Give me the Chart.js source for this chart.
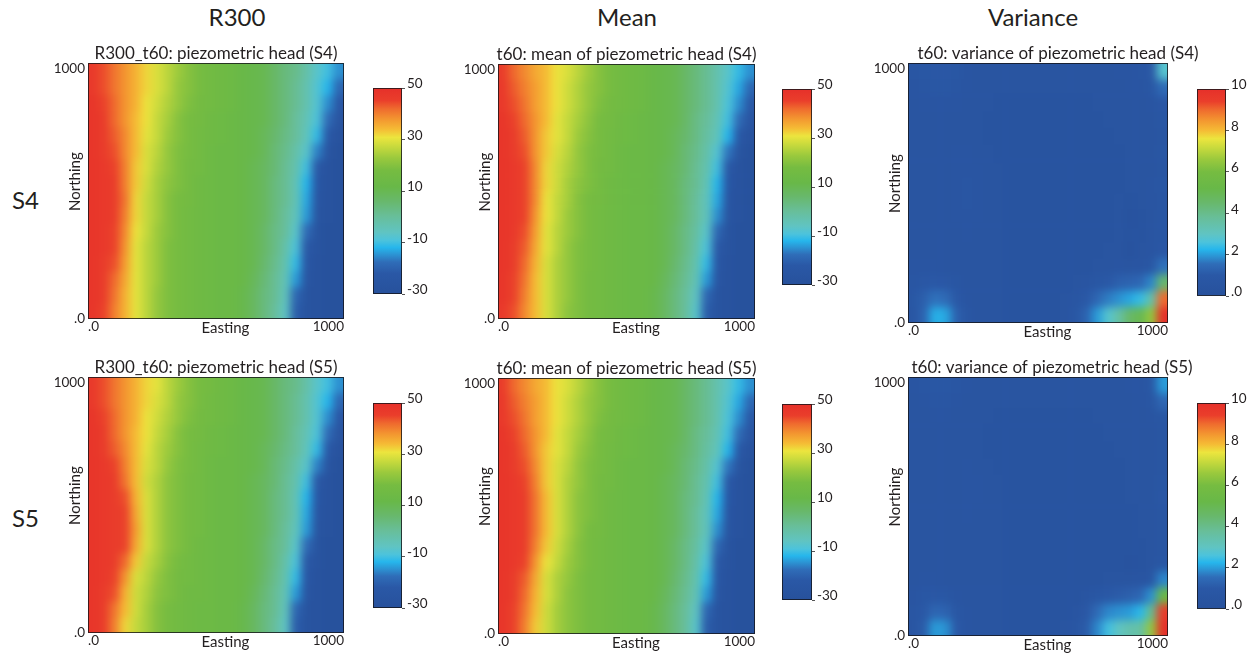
<!DOCTYPE html>
<html>
<head>
<meta charset="utf-8">
<title>Piezometric head at t60: R300, mean and variance</title>
<script src="https://cdn.jsdelivr.net/npm/chart.js@4.4.1/dist/chart.umd.min.js"></script>
<style>
  body { margin: 0; background: #fff; overflow: hidden; }
  #page { position: relative; width: 1257px; height: 655px; font-family: Lato, sans-serif; color: #231f20; }
  #page canvas { position: absolute; }
  .lbl { position: absolute; font-size: 24px; line-height: 1.2; white-space: nowrap; }
  .col { width: 200px; text-align: center; }
</style>
</head>
<body>
<div id="page">
  <div class="lbl col" style="left:137px; top:3px">R300</div>
  <div class="lbl col" style="left:527px; top:3px">Mean</div>
  <div class="lbl col" style="left:933px; top:3px">Variance</div>
  <div class="lbl" style="left:12px; top:186px">S4</div>
  <div class="lbl" style="left:12px; top:504px">S5</div>

  <canvas id="p1"></canvas><canvas id="p2"></canvas><canvas id="p3"></canvas>
  <canvas id="p4"></canvas><canvas id="p5"></canvas><canvas id="p6"></canvas>
  <canvas id="c1"></canvas><canvas id="c2"></canvas><canvas id="c3"></canvas>
  <canvas id="c4"></canvas><canvas id="c5"></canvas><canvas id="c6"></canvas>
</div>
<script>
const EXTENT = 1000;
const axisTicks = [0, 1000];
const headTicks = [-30, -10, 10, 30, 50];
const varianceTicks = [0, 2, 4, 6, 8, 10];
const headRange = [-30, 50];
const varianceRange = [0, 10];

// grids: rows from north (top) to south, columns from west to east
const headR300S4 = [
  [47,44,41,38,35,32,29,26,23,20,18,16,15,14,12,11,10,7,4,2,-2,-7,-10,-15],
  [47,44,41,38,35,32,29,26,22,20,18,16,15,14,12,11,10,7,4,1,-3,-8,-12,-19],
  [48,45,42,38,35,31,28,25,22,19,17,16,15,14,12,11,10,7,4,1,-3,-8,-15,-23],
  [48,46,42,38,34,31,27,24,20,18,17,15,14,13,12,11,10,7,4,0,-4,-9,-18,-26],
  [48,46,43,39,34,30,27,23,20,18,16,15,14,13,12,11,9,6,3,0,-5,-11,-22,-28],
  [48,46,44,39,34,29,26,22,19,18,16,14,13,13,12,11,9,5,2,-2,-7,-16,-26,-29],
  [48,47,45,40,33,29,25,22,19,17,16,14,13,13,12,10,8,5,1,-3,-10,-22,-28,-29],
  [48,47,46,40,33,28,24,21,19,17,15,14,13,13,12,10,8,4,1,-4,-12,-24,-28,-29],
  [48,47,46,41,32,27,24,20,18,17,15,14,13,13,12,10,8,4,1,-4,-13,-25,-28,-29],
  [48,47,46,40,32,27,24,20,18,16,15,14,13,13,12,10,8,4,0,-5,-14,-26,-28,-29],
  [48,47,45,39,31,27,23,20,18,16,15,14,13,13,12,10,7,3,0,-7,-18,-27,-29,-29],
  [48,47,45,38,30,26,23,19,18,16,15,14,13,13,12,10,7,3,-2,-9,-22,-27,-29,-29],
  [48,46,44,37,30,26,23,19,18,16,15,14,13,13,12,10,6,2,-3,-11,-24,-28,-29,-29],
  [48,46,42,36,30,26,23,19,18,16,15,14,13,13,12,9,5,1,-4,-14,-25,-28,-29,-29],
  [48,46,41,35,30,26,22,19,18,16,15,14,13,13,11,8,4,1,-5,-19,-27,-28,-29,-29],
  [48,45,40,35,30,26,22,19,18,16,15,14,13,13,11,8,4,0,-6,-21,-27,-28,-29,-29]
];

const headMeanS4 = [
  [46,42,39,36,34,31,29,26,23,20,18,16,15,14,12,11,10,7,4,1,-3,-7,-11,-15],
  [47,43,40,37,34,31,28,25,22,20,18,16,15,14,12,11,10,7,4,1,-3,-8,-13,-19],
  [47,44,41,37,34,31,28,25,22,19,17,16,15,14,12,11,10,7,4,1,-3,-9,-15,-22],
  [48,45,42,38,34,30,27,24,21,18,17,15,14,13,12,11,10,7,3,0,-4,-10,-18,-25],
  [48,46,43,38,33,30,27,23,20,18,16,15,14,13,12,11,9,6,3,-1,-5,-12,-22,-28],
  [48,46,44,38,33,29,26,22,19,18,16,14,13,13,12,11,9,5,2,-2,-8,-17,-26,-29],
  [48,47,45,39,32,28,25,22,19,17,16,14,13,13,12,10,8,5,1,-3,-10,-22,-28,-29],
  [48,47,45,39,32,28,24,21,19,17,15,14,13,13,12,10,8,4,1,-4,-12,-24,-28,-29],
  [48,47,45,39,31,27,24,20,18,17,15,14,13,13,12,10,8,4,0,-5,-13,-25,-28,-29],
  [48,47,45,38,31,27,23,20,18,16,15,14,13,13,12,10,8,4,0,-5,-15,-26,-28,-29],
  [48,47,44,37,30,26,23,20,18,16,15,14,13,13,12,10,7,3,-1,-7,-19,-27,-29,-29],
  [48,46,43,36,30,26,22,19,18,16,15,14,13,13,12,10,7,3,-2,-9,-22,-27,-29,-29],
  [48,46,42,35,29,25,22,19,18,16,15,14,13,13,12,10,6,2,-3,-11,-24,-28,-29,-29],
  [48,45,41,34,29,25,22,19,17,16,15,14,13,13,12,9,5,1,-4,-14,-25,-28,-29,-29],
  [48,45,40,34,29,25,22,19,17,16,15,14,13,13,11,8,4,0,-6,-19,-27,-28,-29,-29],
  [47,44,39,34,29,25,21,19,17,16,15,14,13,13,11,8,4,0,-7,-21,-27,-28,-29,-29]
];

const varianceS4 = [
  [0.7,0.8,0.9,0.9,0.8,0.6,0.5,0.5,0.5,0.5,0.5,0.5,0.5,0.5,0.5,0.5,0.5,0.5,0.5,0.6,0.6,0.7,0.9,2.8],
  [0.6,0.7,0.8,0.8,0.7,0.6,0.5,0.5,0.5,0.5,0.5,0.5,0.5,0.5,0.5,0.5,0.5,0.5,0.5,0.5,0.6,0.6,0.8,1.5],
  [0.5,0.6,0.6,0.6,0.6,0.5,0.5,0.5,0.4,0.4,0.4,0.4,0.4,0.4,0.4,0.4,0.4,0.5,0.5,0.5,0.5,0.5,0.6,0.9],
  [0.5,0.5,0.5,0.5,0.5,0.5,0.5,0.4,0.4,0.4,0.4,0.4,0.4,0.4,0.4,0.4,0.4,0.4,0.5,0.5,0.5,0.5,0.5,0.8],
  [0.5,0.5,0.5,0.5,0.5,0.5,0.5,0.4,0.4,0.4,0.4,0.4,0.4,0.4,0.4,0.4,0.4,0.4,0.4,0.5,0.5,0.5,0.5,0.7],
  [0.5,0.5,0.5,0.5,0.6,0.6,0.5,0.5,0.4,0.4,0.4,0.4,0.4,0.4,0.4,0.4,0.4,0.4,0.4,0.4,0.5,0.5,0.5,0.8],
  [0.5,0.5,0.5,0.5,0.6,0.6,0.6,0.5,0.5,0.4,0.4,0.4,0.4,0.4,0.4,0.4,0.4,0.4,0.4,0.4,0.5,0.5,0.5,0.7],
  [0.5,0.5,0.5,0.5,0.6,0.7,0.6,0.5,0.5,0.4,0.4,0.4,0.4,0.4,0.4,0.4,0.4,0.4,0.4,0.4,0.5,0.5,0.6,0.8],
  [0.5,0.5,0.5,0.5,0.6,0.7,0.6,0.5,0.5,0.4,0.4,0.4,0.4,0.4,0.4,0.4,0.4,0.4,0.4,0.5,0.4,0.5,0.6,0.7],
  [0.5,0.5,0.5,0.5,0.6,0.6,0.6,0.5,0.5,0.4,0.4,0.4,0.4,0.4,0.4,0.4,0.4,0.4,0.4,0.5,0.3,0.4,0.5,0.8],
  [0.5,0.5,0.5,0.5,0.5,0.6,0.5,0.5,0.5,0.4,0.4,0.4,0.4,0.4,0.4,0.4,0.4,0.4,0.4,0.5,0.4,0.4,0.6,0.8],
  [0.5,0.5,0.5,0.5,0.5,0.5,0.5,0.5,0.5,0.4,0.4,0.4,0.4,0.4,0.4,0.4,0.4,0.4,0.5,0.5,0.3,0.5,0.6,0.9],
  [0.6,0.6,0.6,0.5,0.5,0.5,0.5,0.5,0.5,0.4,0.4,0.4,0.4,0.4,0.4,0.4,0.4,0.5,0.5,0.6,0.5,0.6,0.8,1.6],
  [0.7,0.9,1.0,0.9,0.7,0.5,0.5,0.5,0.5,0.4,0.4,0.4,0.4,0.4,0.4,0.5,0.6,0.8,1.0,1.2,1.3,1.4,1.8,4.5],
  [0.8,1.2,1.6,1.5,1.0,0.6,0.5,0.5,0.5,0.4,0.4,0.4,0.4,0.4,0.5,0.7,1.0,1.4,1.7,1.9,2.1,2.4,3.5,9.0],
  [0.7,1.3,2.2,2.1,1.2,0.7,0.5,0.5,0.5,0.4,0.4,0.4,0.4,0.4,0.5,0.8,1.3,2.0,2.8,3.6,4.6,5.0,6.5,10]
];

const headR300S5 = [
  [47,44,41,38,35,32,30,26,23,20,18,17,15,14,12,11,10,7,4,2,-2,-7,-10,-15],
  [47,44,41,38,35,32,29,26,22,20,18,16,15,14,12,11,10,7,4,1,-3,-8,-12,-19],
  [48,45,42,38,35,31,28,25,22,19,17,16,15,14,12,11,10,7,4,1,-3,-8,-15,-23],
  [48,46,42,38,34,31,27,24,20,18,17,15,14,13,12,11,10,7,4,0,-4,-9,-18,-26],
  [48,46,43,39,34,30,26,23,20,18,16,15,14,13,12,11,9,6,3,0,-5,-11,-22,-28],
  [48,47,45,40,34,29,26,22,19,18,16,14,13,13,12,11,9,5,2,-2,-7,-16,-26,-29],
  [48,47,46,41,34,28,25,21,19,17,16,14,13,13,12,10,8,5,1,-3,-10,-22,-28,-29],
  [48,47,46,44,35,29,25,21,19,17,16,14,13,13,12,10,8,4,1,-4,-12,-24,-28,-29],
  [48,47,46,45,36,29,25,21,19,17,16,14,13,13,12,10,8,4,1,-4,-13,-25,-28,-29],
  [48,47,46,45,37,29,25,21,19,17,16,14,13,13,12,10,8,4,0,-5,-14,-26,-28,-29],
  [48,47,46,45,36,29,25,21,19,17,15,14,13,13,12,10,7,3,0,-7,-18,-27,-29,-29],
  [48,47,46,42,33,27,24,20,18,16,15,14,13,13,12,10,7,3,-2,-9,-22,-27,-29,-29],
  [48,47,45,38,29,26,22,19,17,16,15,14,13,13,12,10,6,2,-3,-11,-24,-28,-29,-29],
  [48,46,44,35,28,25,21,19,17,15,15,14,13,13,12,9,5,1,-4,-14,-25,-28,-29,-29],
  [48,46,41,34,28,24,20,18,16,15,14,14,13,13,11,8,4,1,-5,-19,-27,-28,-29,-29],
  [48,46,40,32,27,24,20,18,16,15,14,14,13,13,11,8,4,0,-6,-21,-27,-28,-29,-29]
];

const headMeanS5 = [
  [46,42,39,36,34,31,29,26,23,20,18,16,15,14,12,11,10,7,4,1,-3,-7,-11,-15],
  [47,43,40,37,34,31,28,25,22,20,18,16,15,14,12,11,10,7,4,1,-3,-8,-13,-19],
  [47,44,41,37,34,31,28,25,22,19,17,16,15,14,12,11,10,7,4,1,-3,-9,-15,-22],
  [48,45,42,38,34,30,27,24,21,18,17,15,14,13,12,11,10,7,3,0,-4,-10,-18,-25],
  [48,46,43,38,33,30,27,23,20,18,16,15,14,13,12,11,9,6,3,-1,-5,-12,-22,-28],
  [48,46,44,39,33,29,26,22,19,18,16,14,13,13,12,11,9,5,2,-2,-8,-17,-26,-29],
  [48,47,45,40,33,29,25,22,19,17,16,14,13,13,12,10,8,5,1,-3,-10,-22,-28,-29],
  [48,47,46,41,34,29,25,21,19,17,15,14,13,13,12,10,8,4,1,-4,-12,-24,-28,-29],
  [48,47,46,41,34,29,25,21,19,17,15,14,13,13,12,10,8,4,0,-5,-13,-25,-28,-29],
  [48,47,46,41,34,29,25,21,18,17,15,14,13,13,12,10,8,4,0,-5,-15,-26,-28,-29],
  [48,47,46,40,33,28,24,20,18,16,15,14,13,13,12,10,7,3,-1,-7,-19,-27,-29,-29],
  [48,47,45,38,31,27,23,20,18,16,15,14,13,13,12,10,7,3,-2,-9,-22,-27,-29,-29],
  [48,46,43,36,29,25,22,19,17,16,15,14,13,13,12,10,6,2,-3,-11,-24,-28,-29,-29],
  [48,46,42,35,29,25,21,19,17,16,15,14,13,13,12,9,5,1,-4,-14,-25,-28,-29,-29],
  [48,45,41,34,28,24,21,19,17,16,15,14,13,13,11,8,4,0,-6,-19,-27,-28,-29,-29],
  [48,45,40,33,28,24,21,19,17,16,15,14,13,13,11,8,4,0,-7,-21,-27,-28,-29,-29]
];

const varianceS5 = [
  [0.6,0.7,0.8,0.8,0.7,0.6,0.5,0.5,0.5,0.5,0.5,0.5,0.5,0.5,0.5,0.5,0.5,0.5,0.5,0.5,0.6,0.6,0.8,2.0],
  [0.5,0.6,0.7,0.7,0.6,0.5,0.5,0.5,0.5,0.5,0.5,0.5,0.5,0.5,0.5,0.5,0.5,0.5,0.5,0.5,0.5,0.6,0.7,1.4],
  [0.5,0.5,0.6,0.6,0.5,0.5,0.5,0.5,0.4,0.4,0.4,0.4,0.4,0.4,0.4,0.4,0.4,0.5,0.5,0.5,0.5,0.5,0.6,0.8],
  [0.5,0.5,0.5,0.5,0.5,0.5,0.5,0.4,0.4,0.4,0.4,0.4,0.4,0.4,0.4,0.4,0.4,0.4,0.5,0.5,0.5,0.5,0.5,0.7],
  [0.5,0.5,0.5,0.5,0.5,0.5,0.5,0.4,0.4,0.4,0.4,0.4,0.4,0.4,0.4,0.4,0.4,0.4,0.4,0.5,0.5,0.5,0.5,0.7],
  [0.5,0.5,0.5,0.5,0.5,0.6,0.5,0.5,0.4,0.4,0.4,0.4,0.4,0.4,0.4,0.4,0.4,0.4,0.4,0.4,0.5,0.5,0.5,0.7],
  [0.5,0.5,0.5,0.5,0.5,0.6,0.6,0.5,0.5,0.4,0.4,0.4,0.4,0.4,0.4,0.4,0.4,0.4,0.4,0.4,0.5,0.5,0.5,0.8],
  [0.5,0.5,0.5,0.5,0.5,0.6,0.6,0.5,0.5,0.4,0.4,0.4,0.4,0.4,0.4,0.4,0.4,0.4,0.4,0.4,0.5,0.5,0.5,0.9],
  [0.5,0.5,0.5,0.5,0.5,0.6,0.5,0.5,0.5,0.4,0.4,0.4,0.4,0.4,0.4,0.4,0.4,0.4,0.4,0.4,0.4,0.5,0.5,0.7],
  [0.5,0.5,0.5,0.5,0.5,0.5,0.5,0.5,0.5,0.4,0.4,0.4,0.4,0.4,0.4,0.4,0.4,0.4,0.4,0.4,0.4,0.5,0.5,0.7],
  [0.5,0.5,0.5,0.5,0.5,0.5,0.5,0.5,0.5,0.4,0.4,0.4,0.4,0.4,0.4,0.4,0.4,0.4,0.4,0.4,0.4,0.4,0.5,0.7],
  [0.5,0.5,0.5,0.5,0.5,0.5,0.5,0.5,0.5,0.4,0.4,0.4,0.4,0.4,0.4,0.4,0.4,0.4,0.4,0.4,0.3,0.4,0.5,0.8],
  [0.5,0.6,0.6,0.5,0.5,0.5,0.5,0.5,0.5,0.4,0.4,0.4,0.4,0.4,0.4,0.4,0.4,0.4,0.5,0.5,0.5,0.6,0.7,1.8],
  [0.6,0.8,0.9,0.8,0.6,0.5,0.5,0.5,0.5,0.4,0.4,0.4,0.4,0.4,0.4,0.4,0.6,0.8,1.0,1.1,1.2,1.4,1.9,5.5],
  [0.7,1.0,1.4,1.3,0.8,0.6,0.5,0.5,0.5,0.4,0.4,0.4,0.4,0.4,0.4,0.6,0.9,1.5,1.8,1.9,2.0,2.3,4.0,9.5],
  [0.6,1.1,2.0,1.9,1.0,0.6,0.5,0.5,0.5,0.4,0.4,0.4,0.4,0.4,0.5,0.7,1.1,1.8,2.5,3.0,3.4,3.6,6.5,10]
];

// rainbow colour scale, position 0..1 along the colour bar
const colorStops = [
  [0.00, '#27519c'], [0.10, '#2a58a6'], [0.155, '#2f6db8'], [0.19, '#2c92d2'],
  [0.225, '#26b6ec'], [0.26, '#4cc3dc'], [0.30, '#60c4c2'], [0.38, '#68be98'],
  [0.45, '#68b86c'], [0.52, '#68b848'], [0.60, '#76bc41'], [0.66, '#9ac93d'],
  [0.72, '#cbdb3d'], [0.76, '#ece53e'], [0.80, '#f5bb35'], [0.85, '#f39530'],
  [0.90, '#ef6a2e'], [0.94, '#ea3e2b'], [1.00, '#e6302a']
];

const ink = '#231f20';
const tickFont = { family: 'Lato', size: 13.5 };
const captionFont = { family: 'Lato', size: 15 };
Chart.defaults.font.family = 'Lato';

function hexRgb(h) {
  return [1, 3, 5].map(i => parseInt(h.slice(i, i + 2), 16));
}

function colorAt(v, range) {
  const t = Math.min(1, Math.max(0, (v - range[0]) / (range[1] - range[0])));
  let i = 1;
  while (i < colorStops.length - 1 && colorStops[i][0] < t) i++;
  const [t0, c0] = colorStops[i - 1];
  const [t1, c1] = colorStops[i];
  const f = (t - t0) / (t1 - t0);
  const a = hexRgb(c0), b = hexRgb(c1);
  return 'rgb(' + a.map((x, k) => Math.round(x + (b[k] - x) * f)).join(',') + ')';
}

const fmtTick = v => v === 0 ? '.0' : String(v);

// soft shading of the cell grid, kept inside the plotting area
const smooth = {
  id: 'smooth',
  afterDatasetsDraw(chart) {
    const { ctx, canvas, chartArea: a } = chart;
    const x = Math.round(a.left), y = Math.round(a.top);
    const w = Math.round(a.width), h = Math.round(a.height);
    const m = 16;
    const src = document.createElement('canvas');
    src.width = w; src.height = h;
    src.getContext('2d').drawImage(canvas, x, y, w, h, 0, 0, w, h);
    // pad with the edge pixels so the borders do not fade
    const pad = document.createElement('canvas');
    pad.width = w + 2 * m; pad.height = h + 2 * m;
    const p = pad.getContext('2d');
    p.drawImage(src, m, m);
    p.drawImage(src, 0, 0, 1, h, 0, m, m, h);
    p.drawImage(src, w - 1, 0, 1, h, w + m, m, m, h);
    p.drawImage(pad, 0, m, w + 2 * m, 1, 0, 0, w + 2 * m, m);
    p.drawImage(pad, 0, h + m - 1, w + 2 * m, 1, 0, h + m, w + 2 * m, m);
    ctx.save();
    ctx.beginPath();
    ctx.rect(x, y, w, h);
    ctx.clip();
    ctx.filter = 'blur(4.5px)';
    ctx.drawImage(pad, x - m, y - m);
    ctx.restore();
  }
};

// thin dark outline around the plotting area
const frame = {
  id: 'frame',
  afterDatasetsDraw(chart) {
    const { ctx, chartArea: a } = chart;
    ctx.save();
    ctx.strokeStyle = 'rgba(20,20,25,0.8)';
    ctx.lineWidth = 1;
    ctx.strokeRect(Math.round(a.left) + 0.5, Math.round(a.top) + 0.5, Math.round(a.width) - 1, Math.round(a.height) - 1);
    ctx.restore();
  }
};

// one floating-bar dataset per grid row; each bar is one cell
function cellRows(grid, range) {
  const dx = EXTENT / grid[0].length;
  const dy = EXTENT / grid.length;
  return grid.map((row, r) => {
    const y0 = EXTENT - (r + 1) * dy;
    return {
      data: row.map((v, c) => ({ x: (c + 0.5) * dx, y: [y0, y0 + dy], v })),
      backgroundColor: row.map(v => colorAt(v, range)),
      borderWidth: 0,
      grouped: false,
      barPercentage: 1,
      categoryPercentage: 1
    };
  });
}

function heatmap(id, grid, range, title, box, shift) {
  const yw = 50, xh = 20, th = 19;
  const canvas = document.getElementById(id);
  canvas.width = yw + box.w + yw + 2 * shift;
  canvas.height = th + box.h + xh;
  canvas.style.left = (box.x - yw) + 'px';
  canvas.style.top = (box.y - th) + 'px';
  const edgeTicks = s => { s.ticks = axisTicks.map(value => ({ value })); };

  new Chart(canvas, {
    type: 'bar',
    data: { datasets: cellRows(grid, range) },
    options: {
      responsive: false,
      animation: false,
      events: [],
      layout: { padding: 0 },
      plugins: {
        legend: { display: false },
        tooltip: { enabled: false },
        title: {
          display: true, text: title, color: ink, fullSize: true,
          font: { family: 'Lato', size: 17, weight: 'normal', lineHeight: th + 'px' },
          padding: 0
        }
      },
      scales: {
        x: {
          type: 'linear', min: 0, max: EXTENT, offset: false,
          afterBuildTicks: edgeTicks,
          afterFit: s => { s.height = xh; },
          grid: { display: false, drawTicks: false },
          border: { display: false },
          ticks: { align: 'inner', maxRotation: 0, autoSkip: false, padding: 0, font: tickFont, color: ink, callback: fmtTick },
          title: { display: true, text: '\u2003\u2002Easting', font: captionFont, color: ink, padding: { top: 0, bottom: 2 } }
        },
        y: {
          type: 'linear', min: 0, max: EXTENT,
          afterBuildTicks: edgeTicks,
          afterFit: s => { s.width = yw; },
          grid: { display: false, drawTicks: false },
          border: { display: false },
          ticks: {
            padding: 3, autoSkip: false, color: ink,
            font: { family: 'Lato', size: 13.5, lineHeight: 0.9 },
            callback: v => v === EXTENT ? ['', fmtTick(v)] : fmtTick(v)
          },
          title: { display: true, text: '\u2003\u2002Northing', font: captionFont, color: ink, padding: { top: 28, bottom: 0 } }
        },
        // empty right-hand strip, keeps the panel title where it belongs
        y2: {
          position: 'right', display: true,
          afterFit: s => { s.width = yw + 2 * shift; },
          grid: { display: false, drawTicks: false },
          border: { display: false },
          ticks: { display: false }
        }
      }
    },
    plugins: [smooth, frame]
  });
}

function barGradient(chart) {
  const a = chart.chartArea;
  if (!a) return null;
  const g = chart.ctx.createLinearGradient(0, a.bottom, 0, a.top);
  colorStops.forEach(([t, c]) => g.addColorStop(t, c));
  return g;
}

function colorbar(id, range, ticks, box) {
  const pad = 12, aw = 36;
  const canvas = document.getElementById(id);
  canvas.width = box.w + aw;
  canvas.height = box.h + 2 * pad;
  canvas.style.left = box.x + 'px';
  canvas.style.top = (box.y - pad) + 'px';

  new Chart(canvas, {
    type: 'bar',
    data: {
      labels: [''],
      datasets: [{
        data: [range],
        backgroundColor: c => barGradient(c.chart),
        borderWidth: 0,
        barPercentage: 1,
        categoryPercentage: 1
      }]
    },
    options: {
      responsive: false,
      animation: false,
      events: [],
      layout: { padding: { top: pad, bottom: pad, left: 0, right: 0 } },
      plugins: { legend: { display: false }, tooltip: { enabled: false } },
      scales: {
        x: { display: false },
        y: {
          position: 'right', min: range[0], max: range[1],
          afterBuildTicks: s => { s.ticks = ticks.map(value => ({ value })); },
          afterFit: s => { s.width = aw; },
          grid: { drawOnChartArea: false, drawTicks: true, tickLength: 3, color: '#555' },
          border: { display: false },
          ticks: {
            padding: 2, autoSkip: false, color: ink,
            font: { family: 'Lato', size: 13.5, lineHeight: 0.6 },
            callback: v => [fmtTick(v), '']
          }
        }
      }
    },
    plugins: [frame]
  });
}

heatmap('p1', headR300S4, headRange, 'R300_t60: piezometric head (S4)', { x: 88, y: 63, w: 256, h: 256 }, 0);
heatmap('p2', headMeanS4, headRange, 't60: mean of piezometric head (S4)', { x: 498, y: 64, w: 257, h: 255 }, 0);
heatmap('p3', varianceS4, varianceRange, 't60: variance of piezometric head (S4)', { x: 908, y: 63, w: 260, h: 260 }, 20);
heatmap('p4', headR300S5, headRange, 'R300_t60: piezometric head (S5)', { x: 88, y: 377, w: 256, h: 256 }, 0);
heatmap('p5', headMeanS5, headRange, 't60: mean of piezometric head (S5)', { x: 498, y: 378, w: 257, h: 256 }, 0);
heatmap('p6', varianceS5, varianceRange, 't60: variance of piezometric head (S5)', { x: 908, y: 377, w: 260, h: 259 }, 14);

colorbar('c1', headRange, headTicks, { x: 373, y: 88, w: 29, h: 206 });
colorbar('c2', headRange, headTicks, { x: 782, y: 89, w: 30, h: 196 });
colorbar('c3', varianceRange, varianceTicks, { x: 1197, y: 89, w: 29, h: 207 });
colorbar('c4', headRange, headTicks, { x: 373, y: 403, w: 29, h: 205 });
colorbar('c5', headRange, headTicks, { x: 782, y: 404, w: 30, h: 196 });
colorbar('c6', varianceRange, varianceTicks, { x: 1197, y: 403, w: 29, h: 206 });
</script>
</body>
</html>
